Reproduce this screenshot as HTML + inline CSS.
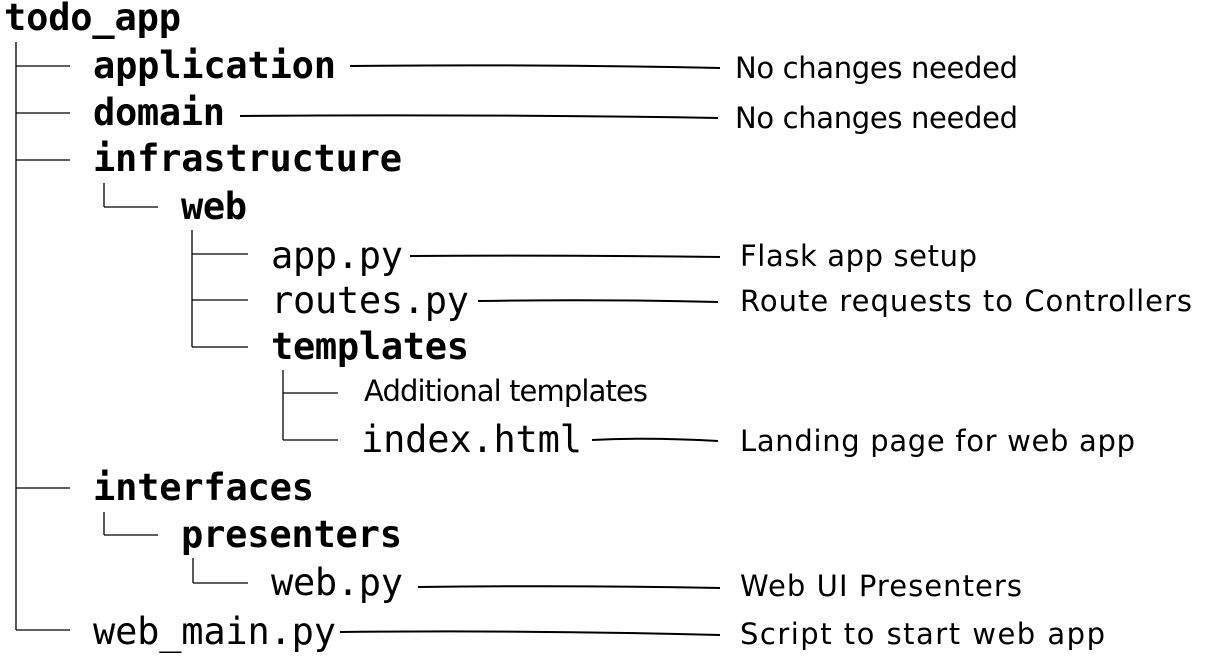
<!DOCTYPE html>
<html><head><meta charset="utf-8"><style>
html,body{margin:0;padding:0;background:#fff;}
svg{display:block}
.m{font-family:"DejaVu Sans Mono","Liberation Mono",monospace;font-size:37px;fill:#000}
.b{font-weight:bold}
.h{font-family:"Comic Sans MS","DejaVu Sans","Liberation Sans",sans-serif;font-size:29px;fill:#000}
</style></head><body>
<svg width="1211" height="662" viewBox="0 0 1211 662" xmlns="http://www.w3.org/2000/svg">
<g stroke="#000" stroke-width="1.3" fill="none">
<line x1="16" y1="42" x2="16" y2="630"/>
<line x1="16" y1="66" x2="70" y2="66"/>
<line x1="16" y1="113" x2="70" y2="113"/>
<line x1="16" y1="160" x2="70" y2="160"/>
<line x1="16" y1="488" x2="70" y2="488"/>
<line x1="16" y1="630" x2="70" y2="630"/>
<line x1="104" y1="183" x2="104" y2="207"/>
<line x1="104" y1="207" x2="158" y2="207"/>
<line x1="192" y1="230" x2="192" y2="347"/>
<line x1="192" y1="254" x2="248" y2="254"/>
<line x1="192" y1="300" x2="248" y2="300"/>
<line x1="192" y1="347" x2="248" y2="347"/>
<line x1="283" y1="370" x2="283" y2="440"/>
<line x1="283" y1="393" x2="338" y2="393"/>
<line x1="283" y1="440" x2="338" y2="440"/>
<line x1="104" y1="512" x2="104" y2="535"/>
<line x1="104" y1="535" x2="158" y2="535"/>
<line x1="193" y1="558" x2="193" y2="583"/>
<line x1="193" y1="583" x2="248" y2="583"/>
</g>
<g stroke="#000" stroke-width="2" fill="none">
<path d="M350 66 Q530 64 720 68"/>
<path d="M240 116 Q480 114 718 118"/>
<path d="M410 256 Q560 255 720 257"/>
<path d="M478 301 Q600 299 718 302"/>
<path d="M592 440 Q650 437 718 441"/>
<path d="M418 587 Q570 585 720 588"/>
<path d="M340 632 Q530 630 720 635"/>
</g>
<g class="m b">
<text x="4" y="30" textLength="177">todo_app</text>
<text x="93" y="78" textLength="243">application</text>
<text x="93" y="125" textLength="132">domain</text>
<text x="93" y="171" textLength="309">infrastructure</text>
<text x="181" y="219" textLength="66">web</text>
<text x="271" y="359" textLength="198">templates</text>
<text x="93" y="500" textLength="221">interfaces</text>
<text x="181" y="547" textLength="221">presenters</text>
</g>
<g class="m">
<text x="271" y="268" textLength="132">app.py</text>
<text x="271" y="313" textLength="198">routes.py</text>
<text x="361" y="452" textLength="221">index.html</text>
<text x="271" y="595" textLength="132">web.py</text>
<text x="93" y="644" textLength="243">web_main.py</text>
</g>
<g class="h">
<text x="735" y="78" textLength="283">No changes needed</text>
<text x="735" y="128" textLength="283">No changes needed</text>
<text x="740" y="266" textLength="237">Flask app setup</text>
<text x="740" y="311" textLength="452">Route requests to Controllers</text>
<text x="364" y="401" textLength="284">Additional templates</text>
<text x="740" y="451" textLength="395">Landing page for web app</text>
<text x="740" y="596" textLength="282">Web UI Presenters</text>
<text x="740" y="644" textLength="365">Script to start web app</text>
</g>
</svg>
</body></html>
